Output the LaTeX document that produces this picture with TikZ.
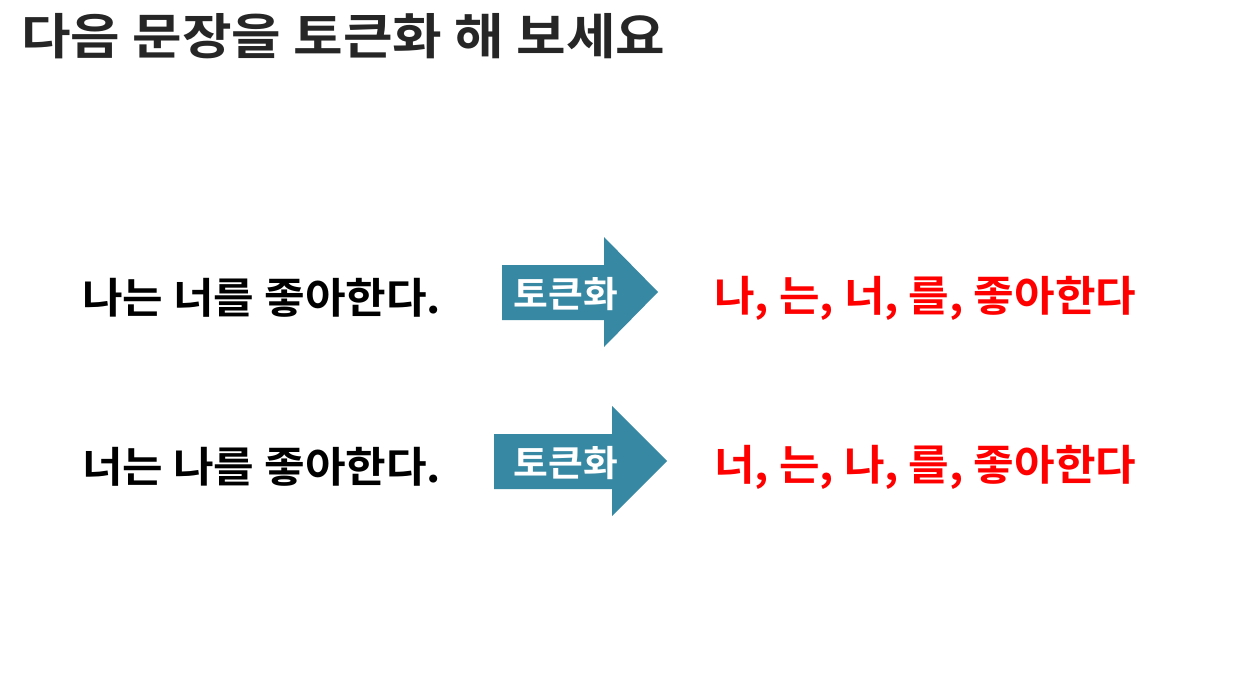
\documentclass[tikz,border=0pt]{standalone}
\usepackage{fontspec}
\newfontfamily\kr{Noto Sans CJK KR Bold}
\begin{document}
\begin{tikzpicture}[x=1pt,y=-1pt,
  txt/.style={font=\kr\fontsize{42}{46}\selectfont,anchor=west,inner sep=0pt,xscale=1.05},
  res/.style={txt,text=red},
  arr/.style={fill=arrowblue},
  lab/.style={font=\kr\fontsize{36}{40}\selectfont,text=white,inner sep=0pt,xscale=1.05}]
\definecolor{arrowblue}{HTML}{3788A3}
\useasboundingbox (0,0) rectangle (1237,685);
\node[anchor=west,inner sep=0pt,font=\kr\fontsize{49}{54}\selectfont,xscale=1.10,text={rgb,255:red,38;green,38;blue,38}] (title) at (21,36) {다음 문장을 토큰화 해 보세요};
\node[txt] (s1) at (82,298) {나는 너를 좋아한다.};
\node[txt] (s2) at (82,467) {너는 나를 좋아한다.};
\fill[arr] (502,265) -- (604,265) -- (604,237) -- (658,292) -- (604,347) -- (604,320) -- (502,320) -- cycle;
\fill[arr] (494,434) -- (612,434) -- (612,406) -- (667,461) -- (612,516) -- (612,489) -- (494,489) -- cycle;
\node[lab] (a1) at (566,294) {토큰화};
\node[lab] (a2) at (566,463) {토큰화};
\node[res] (r1) at (714,298) {나, 는, 너, 를, 좋아한다};
\node[res] (r2) at (714,467) {너, 는, 나, 를, 좋아한다};
\end{tikzpicture}
\end{document}
